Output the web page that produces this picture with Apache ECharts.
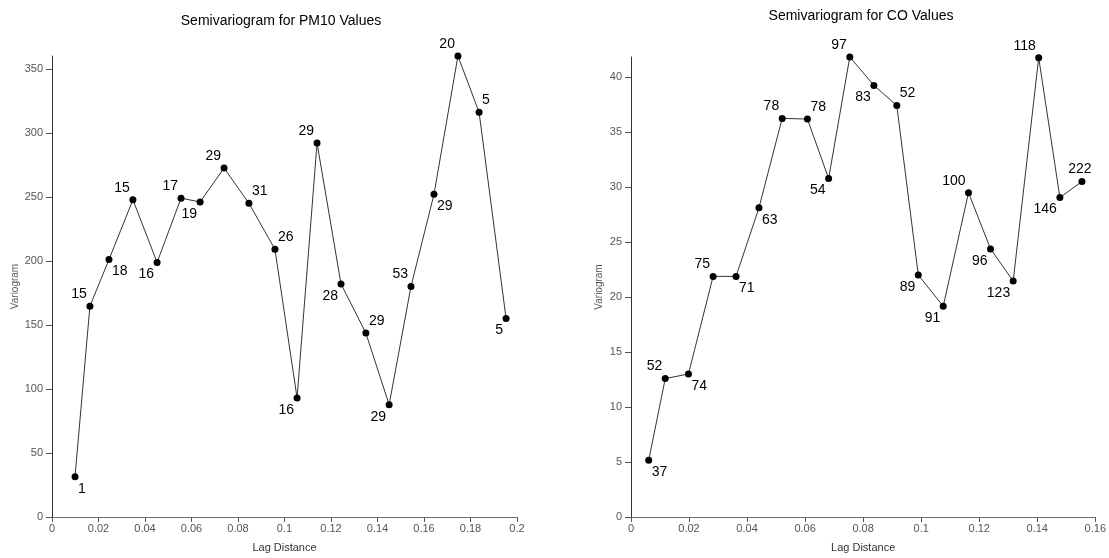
<!DOCTYPE html>
<html>
<head>
<meta charset="utf-8">
<title>Semivariograms</title>
<script src="https://cdn.jsdelivr.net/npm/echarts@6/dist/echarts.min.js"></script>
<style>
  html, body { margin: 0; padding: 0; background: #ffffff; }
  #chart { width: 1109px; height: 558px; }
</style>
</head>
<body>
<div id="chart"></div>
<script>
// PM10 semivariogram: lag distance, semivariance and number of pairs per lag
const pm10Lag   = [0.0099, 0.0163, 0.0245, 0.0348, 0.0452, 0.0555, 0.0637, 0.0740, 0.0847, 0.0959,
                   0.1054, 0.1140, 0.1243, 0.1350, 0.1450, 0.1544, 0.1643, 0.1746, 0.1837, 0.1953];
const pm10Gamma = [31.5, 164.6, 201, 247.7, 198.8, 249, 246, 272.5, 245, 209,
                   93, 292, 182, 143.6, 87.7, 180, 252, 360, 316, 155];
const pm10Pairs = [1, 15, 18, 15, 16, 17, 19, 29, 31, 26,
                   16, 29, 28, 29, 29, 53, 29, 20, 5, 5];
// where each pair-count label sits around its point
const pm10Place = ['lr', 'ul', 'lr', 'ul', 'll', 'ul', 'll', 'ul', 'ur', 'ur',
                   'll', 'ul', 'll', 'ur', 'll', 'ul', 'lr', 'ul', 'ur', 'll'];

// CO semivariogram
const coLag   = [0.0061, 0.0118, 0.0198, 0.0283, 0.0362, 0.0441, 0.0521, 0.0608, 0.0681, 0.0754,
                 0.0837, 0.0916, 0.0990, 0.1076, 0.1163, 0.1239, 0.1317, 0.1405, 0.1478, 0.1554];
const coGamma = [5.15, 12.58, 13.0, 21.87, 21.87, 28.11, 36.23, 36.17, 30.77, 41.81,
                 39.23, 37.4, 22.0, 19.15, 29.48, 24.37, 21.44, 41.75, 29.03, 30.5];
const coPairs = [37, 52, 74, 75, 71, 63, 78, 78, 54, 97,
                 83, 52, 89, 91, 100, 96, 123, 118, 146, 222];
const coPlace = ['lr', 'ul', 'lr', 'ul', 'lr', 'lr', 'ul', 'ur', 'll', 'ul',
                 'll', 'ur', 'll', 'll', 'ul', 'll', 'll', 'ul', 'll', 'u'];

// axis tick values
const pm10XTicks = [0, 0.02, 0.04, 0.06, 0.08, 0.1, 0.12, 0.14, 0.16, 0.18, 0.2];
const pm10YTicks = [0, 50, 100, 150, 200, 250, 300, 350];
const coXTicks   = [0, 0.02, 0.04, 0.06, 0.08, 0.1, 0.12, 0.14, 0.16];
const coYTicks   = [0, 5, 10, 15, 20, 25, 30, 35, 40];

const FONT = '"Liberation Sans", Arial, sans-serif';

const placeStyle = {
  ul: { align: 'right',  offset: [-3, -12] },
  ur: { align: 'left',   offset: [3, -12] },
  ll: { align: 'right',  offset: [-3, 12] },
  lr: { align: 'left',   offset: [3, 12] },
  u:  { align: 'center', offset: [-2, -12] }
};

function points(lags, gammas, pairs, places) {
  return lags.map((x, i) => {
    const p = placeStyle[places[i]];
    return {
      name: String(pairs[i]),
      value: [x, gammas[i]],
      label: { align: p.align, offset: p.offset }
    };
  });
}

function xAxisFor(gridIndex, max, ticks) {
  return {
    type: 'value', gridIndex: gridIndex, min: 0, max: max,
    name: 'Lag Distance', nameLocation: 'middle', nameGap: 25,
    nameTextStyle: { fontFamily: FONT, fontSize: 11, color: '#333' },
    axisLine: { show: true, onZero: false, lineStyle: { color: '#5b5bff', width: 1 } },
    axisTick: { show: true, length: 5, customValues: ticks, lineStyle: { color: '#555' } },
    axisLabel: { customValues: ticks, margin: 6, fontFamily: FONT, fontSize: 11, color: '#555',
                 formatter: v => String(+v.toFixed(2)) },
    splitLine: { show: false }
  };
}

function yAxisFor(gridIndex, ticks, gap) {
  return {
    type: 'value', gridIndex: gridIndex, min: 0, max: 'dataMax',
    name: 'Variogram', nameLocation: 'middle', nameGap: gap, nameRotate: 90,
    nameTextStyle: { fontFamily: FONT, fontSize: 10, color: '#555' },
    axisLine: { show: true, lineStyle: { color: '#333', width: 1 } },
    axisTick: { show: true, length: 6, customValues: ticks, lineStyle: { color: '#555' } },
    axisLabel: { customValues: ticks, margin: 9, fontFamily: FONT, fontSize: 11, color: '#555' },
    splitLine: { show: false }
  };
}

function lineSeries(index, data) {
  return {
    type: 'line', xAxisIndex: index, yAxisIndex: index,
    data: data,
    symbol: 'circle', symbolSize: 7,
    itemStyle: { color: '#000' },
    lineStyle: { color: '#333', width: 1 },
    label: {
      show: true, position: 'inside', formatter: '{b}',
      verticalAlign: 'middle',
      fontFamily: FONT, fontSize: 14, color: '#000'
    },
    emphasis: { disabled: true },
    animation: false
  };
}

const chart = echarts.init(document.getElementById('chart'), null, { renderer: 'canvas' });

chart.setOption({
  backgroundColor: '#ffffff',
  animation: false,
  title: [
    { text: 'Semivariogram for PM10 Values', left: 281, top: 14, textAlign: 'center', padding: 0,
      textStyle: { fontFamily: FONT, fontSize: 14, fontWeight: 'normal', color: '#000' } },
    { text: 'Semivariogram for CO Values', left: 861, top: 9, textAlign: 'center', padding: 0,
      textStyle: { fontFamily: FONT, fontSize: 14, fontWeight: 'normal', color: '#000' } }
  ],
  grid: [
    { left: 52, right: 592, top: 56, bottom: 37 },
    { left: 631, right: 11, top: 57, bottom: 37 }
  ],
  xAxis: [xAxisFor(0, 0.2, pm10XTicks), xAxisFor(1, 0.16, coXTicks)],
  yAxis: [yAxisFor(0, pm10YTicks, 32), yAxisFor(1, coYTicks, 27)],
  series: [
    lineSeries(0, points(pm10Lag, pm10Gamma, pm10Pairs, pm10Place)),
    lineSeries(1, points(coLag, coGamma, coPairs, coPlace))
  ]
});
</script>
</body>
</html>
